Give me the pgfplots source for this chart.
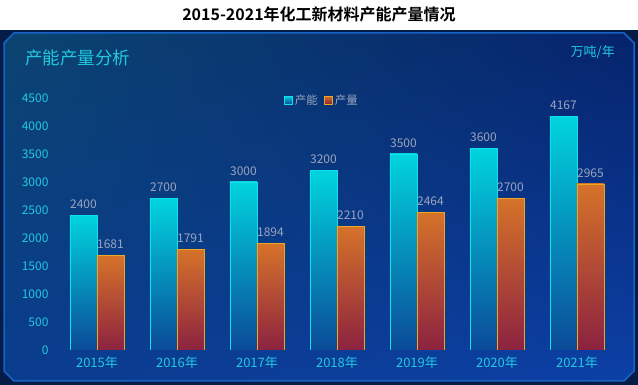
\documentclass[border=0pt]{standalone}
\usepackage{fontspec}
\setmainfont{Noto Sans CJK SC}[BoldFont={Noto Sans CJK SC Bold}]
\usepackage{pgfplots}
\pgfplotsset{compat=1.18}
\usetikzlibrary{shadings}
\definecolor{capTop}{HTML}{00D4DE}
\definecolor{capBot}{HTML}{0B4A98}
\definecolor{outTop}{HTML}{D6722A}
\definecolor{outBot}{HTML}{8C2240}
\definecolor{capLine}{HTML}{10E0EA}
\definecolor{outLine}{HTML}{E8A820}
\definecolor{cyanTxt}{HTML}{22C8E0}
\definecolor{valTxt}{HTML}{9AA4BE}
\definecolor{outside}{HTML}{061C48}
\definecolor{panelBorder}{HTML}{1762C2}
\definecolor{bgUL}{HTML}{0B4470}
\definecolor{bgUR}{HTML}{06236C}
\definecolor{bgLL}{HTML}{0A3C8E}
\definecolor{bgLR}{HTML}{0C40A6}
\pgfplotsset{
  capbar/.style={ybar, bar width=27pt, bar shift=-13.5pt, top color=capTop, bottom color=capBot, draw=capLine, line width=0.9pt, forget plot,
    every node near coord/.append style={xshift=-13.5pt}},
  outbar/.style={ybar, bar width=27pt, bar shift=13.5pt, top color=outTop, bottom color=outBot, draw=outLine, line width=0.9pt, forget plot,
    every node near coord/.append style={xshift=13.5pt}},
}
\begin{document}
\begin{tikzpicture}[x=1pt,y=1pt]
\path[use as bounding box] (0,0) rectangle (638,385);
\fill[outside] (0,0) rectangle (638,385);
\fill[white] (0,355) rectangle (638,385);
\shade[upper left=bgUL, upper right=bgUR, lower left=bgLL, lower right=bgLR]
  (4,342) -- (14,352) -- (624,352) -- (634,342) -- (634,14) -- (624,4) -- (14,4) -- (4,14) -- cycle;
\draw[panelBorder, line width=1.5pt]
  (4,342) -- (14,352) -- (624,352) -- (634,342) -- (634,14) -- (624,4) -- (14,4) -- (4,14) -- cycle;
\node[font=\bfseries\fontsize{16}{16}\selectfont, text=black] at (319,371) {2015-2021年化工新材料产能产量情况};
\node[font=\fontsize{17.5}{17.5}\selectfont, text=cyanTxt, anchor=west, inner sep=0pt] at (25,327) {产能产量分析};
\node[font=\fontsize{13}{13}\selectfont, text=cyanTxt, anchor=east, inner sep=0pt] at (615,333) {万吨/年};
\begin{axis}[
  at={(57pt,35pt)}, anchor=south west, scale only axis,
  width=560pt, height=252pt,
  xmin=-0.5, xmax=6.5, ymin=0, ymax=4500,
  xtick={0,1,2,3,4,5,6},
  xticklabels={2015年,2016年,2017年,2018年,2019年,2020年,2021年},
  ytick={0,500,...,4500},
  axis line style={draw=none},
  major tick length=0pt,
  /pgf/number format/assume math mode=true,
  /pgf/number format/1000 sep={},
  yticklabel style={font=\fontsize{12}{12}\selectfont, text=cyanTxt, xshift=-5pt},
  xticklabel style={font=\fontsize{13}{13}\selectfont, text=cyanTxt, yshift=-3pt},
  nodes near coords,
  every node near coord/.append style={font=\fontsize{12}{12}\selectfont, text=valTxt, yshift=3pt},
  legend style={at={(0.473,0.992)}, anchor=center, draw=none, fill=none,
    legend columns=2, font=\fontsize{11.5}{11.5}\selectfont, text=valTxt,
    /tikz/every even column/.append style={column sep=4pt}},
]
\addplot[capbar] coordinates {(0,2400)};
\addplot[capbar] coordinates {(1,2700)};
\addplot[capbar] coordinates {(2,3000)};
\addplot[capbar] coordinates {(3,3200)};
\addplot[capbar] coordinates {(4,3500)};
\addplot[capbar] coordinates {(5,3600)};
\addplot[capbar] coordinates {(6,4167)};
\addplot[outbar] coordinates {(0,1681)};
\addplot[outbar] coordinates {(1,1791)};
\addplot[outbar] coordinates {(2,1894)};
\addplot[outbar] coordinates {(3,2210)};
\addplot[outbar] coordinates {(4,2464)};
\addplot[outbar] coordinates {(5,2700)};
\addplot[outbar] coordinates {(6,2965)};
\addlegendimage{legend image code/.code={\draw[top color=capTop, bottom color=capBot, draw=capLine, line width=0.9pt] (0pt,-4pt) rectangle (8pt,4pt);}}
\addlegendimage{legend image code/.code={\draw[top color=outTop, bottom color=outBot, draw=outLine, line width=0.9pt] (0pt,-4pt) rectangle (8pt,4pt);}}
\legend{产能,产量}
\end{axis}
\end{tikzpicture}
\end{document}
